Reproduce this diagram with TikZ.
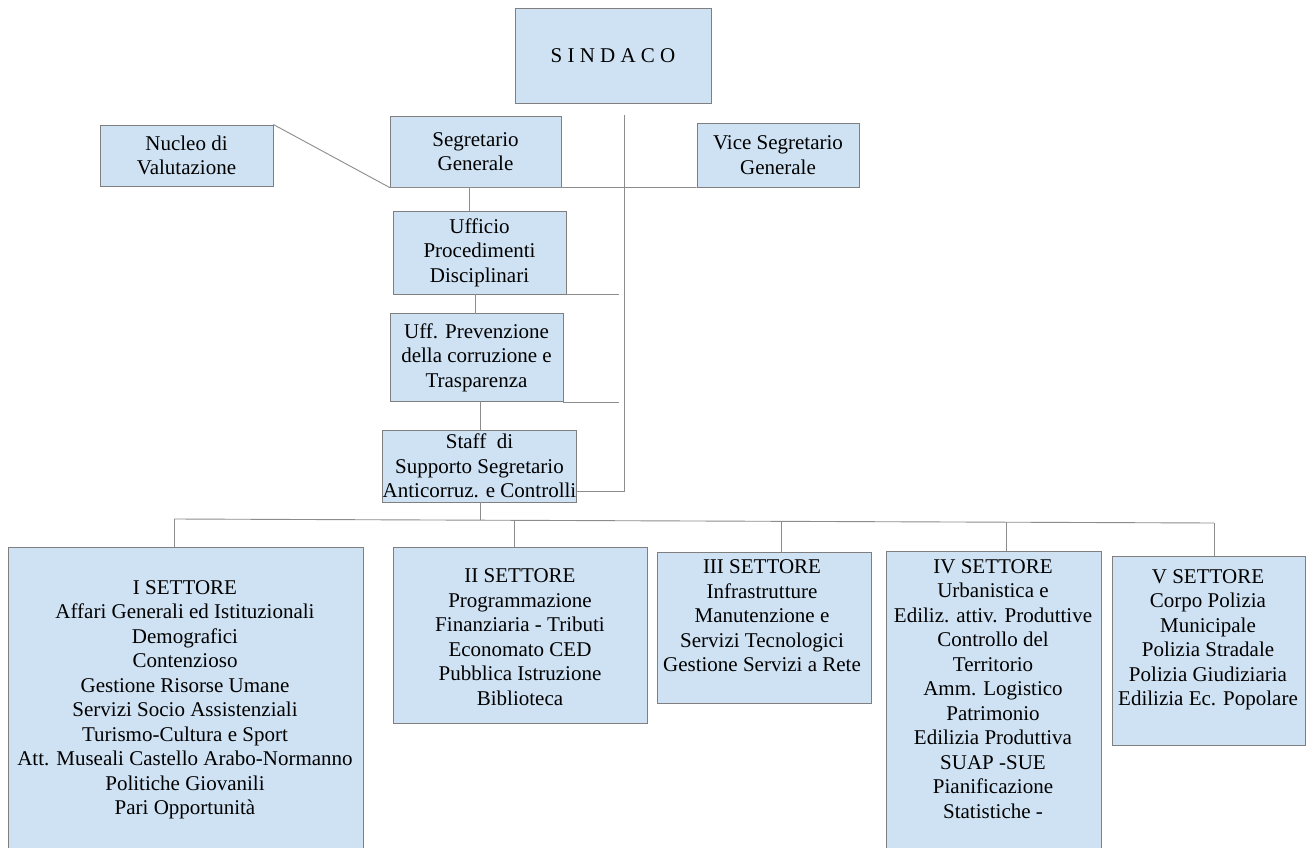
\documentclass[tikz,border=0pt]{standalone}
\usepackage{fontspec}
\setmainfont{Liberation Serif}
\usetikzlibrary{calc}
\definecolor{boxfill}{HTML}{CFE2F3}
\definecolor{boxline}{HTML}{7F7F7F}
\definecolor{linegray}{HTML}{8C8C8C}
\tikzset{
  box/.style={draw=boxline, fill=boxfill, line width=0.9pt, inner sep=0pt, align=center,
              font=\fontsize{21}{24.5}\selectfont},
  txt/.style={inner sep=0pt, align=center, font=\fontsize{21}{24.5}\selectfont},
  conn/.style={draw=linegray, line width=0.9pt}
}
\begin{document}
\begin{tikzpicture}[x=1pt,y=-1pt]
\clip (0,0) rectangle (1309,848);
\fill[white] (0,0) rectangle (1309,848);
% top boxes
\node[box, minimum width=196pt, minimum height=95pt] (sindaco) at (613,55.5) {S I N D A C O};
\node[box, minimum width=173pt, minimum height=61pt] (nucleo) at (186.5,155.5) {Nucleo di\\Valutazione};
\node[box, minimum width=171pt, minimum height=71pt] (seg) at (475.5,151.5) {Segretario\\Generale};
\node[box, minimum width=162pt, minimum height=64pt] (vice) at (778,155) {Vice Segretario\\Generale};
\node[box, minimum width=173pt, minimum height=83pt] (upd) at (479.5,252.5) {Ufficio\\Procedimenti\\Disciplinari};
\node[box, minimum width=173pt, minimum height=88pt] (prev) at (476.5,357.5) {Uff. Prevenzione\\della corruzione e\\Trasparenza};
\node[box, minimum width=193pt, minimum height=72pt] (staff) at (479.5,466) {Staff~ di\\Supporto Segretario\\Anticorruz. e Controlli};
% sector boxes
\node[box, minimum width=355pt, minimum height=305pt] (s1) at (185.5,699.5) {};
\node[box, minimum width=254pt, minimum height=176pt] (s2) at (520,635) {};
\node[box, minimum width=214pt, minimum height=151pt] (s3) at (764,627.5) {};
\node[box, minimum width=215pt, minimum height=301pt] (s4) at (993.5,701.5) {};
\node[box, minimum width=193pt, minimum height=189pt] (s5) at (1208.5,650.5) {};
\node[txt] (s1t) at (185,700) {I SETTORE\\Affari Generali ed Istituzionali\\Demografici\\Contenzioso\\Gestione Risorse Umane\\Servizi Socio Assistenziali\\Turismo-Cultura e Sport\\Att. Museali Castello Arabo-Normanno\\Politiche Giovanili\\Pari Opportunità};
\node[txt] (s2t) at (520,637) {II SETTORE\\Programmazione\\Finanziaria - Tributi\\Economato CED\\Pubblica Istruzione\\Biblioteca};
\node[txt] (s3t) at (762,616) {III SETTORE\\Infrastrutture\\Manutenzione e\\Servizi Tecnologici\\Gestione Servizi a Rete};
\node[txt] (s4t) at (993,689) {IV SETTORE\\Urbanistica e\\Ediliz. attiv. Produttive\\Controllo del\\Territorio\\Amm. Logistico\\Patrimonio\\Edilizia Produttiva\\SUAP -SUE\\Pianificazione\\Statistiche -};
\node[txt] (s5t) at (1208,640) {V SETTORE\\Corpo Polizia\\Municipale\\Polizia Stradale\\Polizia Giudiziaria\\Edilizia Ec. Popolare};
% helper coordinates
\coordinate (vtop) at (624,115);
\coordinate (vbot) at (624,491);
\coordinate (busL) at (174,519);
\coordinate (busR) at (1214,523);
% connectors
\draw[conn] (nucleo.north east) -- (seg.south west) -- (vice.south west);
\draw[conn] (vtop) -- (vbot) -- (staff.east |- vbot);
\draw[conn] (upd.south east) -- ++(53,0);
\draw[conn] (prev.south east) -- ++(56,0);
\draw[conn] (469,187) -- (469,211);
\draw[conn] (475,294) -- (475,314);
\draw[conn] (480,401) -- (480,430);
\draw[conn] (480,502) -- (480,520.2);
\draw[conn] (busL) -- (busR);
\draw[conn] (busL) -- (busL |- s1.north);
\draw[conn] (514,520.3) -- (514,547);
\draw[conn] (781,521.3) -- (781,552);
\draw[conn] (1006,522.2) -- (1006,551);
\draw[conn] (busR) -- (busR |- s5.north);
\end{tikzpicture}
\end{document}
